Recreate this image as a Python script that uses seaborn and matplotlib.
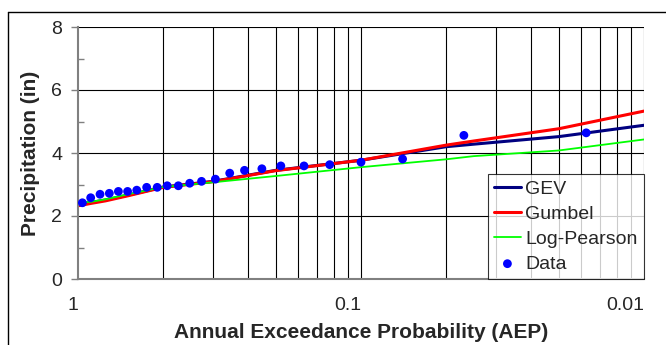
import matplotlib
matplotlib.use("Agg")
import numpy as np
import pandas as pd
import matplotlib.pyplot as plt
import matplotlib.ticker as mticker
from matplotlib.lines import Line2D
import seaborn as sns

# fitted curves (AEP, precipitation in inches)
curve_aep = [0.99, 0.9, 0.8, 0.667, 0.5, 0.333, 0.2, 0.1, 0.05, 0.04, 0.02, 0.01]
gev = [2.35, 2.43, 2.51, 2.66, 2.92, 3.10, 3.45, 3.77, 4.20, 4.28, 4.52, 4.88]
gumbel = [2.33, 2.40, 2.48, 2.64, 2.91, 3.09, 3.44, 3.77, 4.25, 4.38, 4.77, 5.33]
log_pearson = [2.43, 2.45, 2.53, 2.69, 2.92, 3.07, 3.27, 3.55, 3.80, 3.90, 4.08, 4.43]

# observed data
data_aep = [0.965, 0.902, 0.836, 0.775, 0.720, 0.668, 0.620, 0.572, 0.525, 0.484,
            0.442, 0.403, 0.366, 0.327, 0.291, 0.258, 0.224, 0.192, 0.159, 0.129,
            0.100, 0.0713, 0.0433, 0.016]
data_precip = [2.42, 2.58, 2.69, 2.72, 2.78, 2.78, 2.82, 2.91, 2.91, 2.96,
               2.96, 3.04, 3.10, 3.17, 3.36, 3.45, 3.50, 3.59, 3.59, 3.63,
               3.71, 3.81, 4.56, 4.64]

x_ticks = [1, 0.1, 0.01]
x_labels = ["1", "0.1", "0.01"]

sns.set_style("white")
plt.rcParams["font.family"] = ["Liberation Sans", "DejaVu Sans"]

curves = pd.DataFrame({"aep": curve_aep, "GEV": gev, "Gumbel": gumbel,
                       "Log-Pearson": log_pearson})
obs = pd.DataFrame({"aep": data_aep, "precip": data_precip})

fig = plt.figure(figsize=(6.66, 3.45), dpi=100)
ax = fig.add_axes([78 / 666, 1 - 279 / 345, (644 - 78) / 666, (279 - 27) / 345])

# outer chart border (runs off the right and bottom edges like the original)
bx, by = 7.5 / 666, 1 - 11.5 / 345
fig.add_artist(Line2D([bx, 1.0], [by, by], transform=fig.transFigure,
                      color="black", lw=1.0))
fig.add_artist(Line2D([bx, bx], [0.0, by], transform=fig.transFigure,
                      color="black", lw=1.0))

sns.lineplot(data=curves, x="aep", y="GEV", color="#000080", lw=2.2, ax=ax, label="GEV")
sns.lineplot(data=curves, x="aep", y="Gumbel", color="#ff0000", lw=2.2, ax=ax, label="Gumbel")
sns.lineplot(data=curves, x="aep", y="Log-Pearson", color="#00ff00", lw=1.3, ax=ax,
             label="Log-Pearson")
sns.scatterplot(data=obs, x="aep", y="precip", color="#0000ff", s=40, edgecolor="none",
                ax=ax, label="Data", zorder=5)

ax.set_xscale("log")
ax.set_xlim(1, 0.01)
ax.set_ylim(0, 8)

# gridlines at 1/n like a return-period axis
grid_pos = [1 / n for n in list(range(2, 10)) + list(range(10, 100, 10))]
ax.xaxis.set_major_locator(mticker.FixedLocator(x_ticks))
ax.xaxis.set_major_formatter(mticker.FixedFormatter(x_labels))
ax.xaxis.set_minor_locator(mticker.FixedLocator(grid_pos))
ax.xaxis.set_minor_formatter(mticker.NullFormatter())
for x in grid_pos + [0.01]:
    ax.axvline(x, color="black", lw=0.8, zorder=1)

ax.yaxis.set_major_locator(mticker.MultipleLocator(2))
ax.yaxis.set_minor_locator(mticker.MultipleLocator(1))
for y in [2, 4, 6, 8]:
    ax.axhline(y, color="black", lw=0.8, zorder=1)

ax.tick_params(axis="x", which="both", length=0, pad=13, labelsize=14)
for lab in ax.get_xticklabels():
    lab.set_horizontalalignment("right")
ax.tick_params(axis="y", which="major", length=5, width=1, color="#808080",
               direction="out", pad=6.5, labelsize=14, left=True)
ax.tick_params(axis="y", which="minor", length=4, width=1, color="#808080",
               direction="in", left=True)

for side in ["top", "right"]:
    ax.spines[side].set_visible(False)
for side in ["left", "bottom"]:
    ax.spines[side].set_color("#808080")
    ax.spines[side].set_linewidth(1.5)

ax.set_xlabel("Annual Exceedance Probability (AEP)", fontsize=15, fontweight="bold",
              labelpad=6.5)
ax.set_ylabel("Precipitation (in)", fontsize=15, fontweight="bold", labelpad=8)

leg = ax.legend(loc="lower right", borderaxespad=0, frameon=True, fancybox=False,
                fontsize=14, handlelength=1.35, handletextpad=0.25, labelspacing=0.38,
                borderpad=0.32)
leg.get_frame().set_edgecolor("black")
leg.get_frame().set_linewidth(0.8)
leg.set_zorder(10)

fig.savefig("out.png", dpi=100)
